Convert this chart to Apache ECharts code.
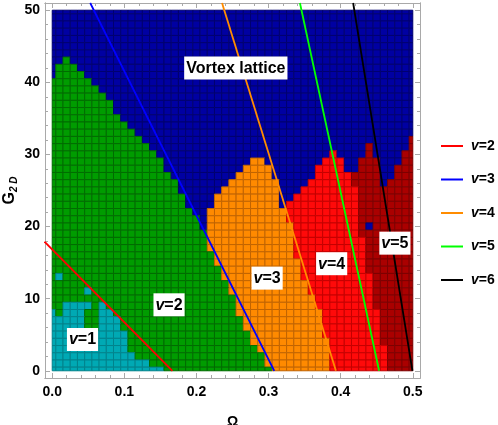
<!DOCTYPE html>
<html>
<head>
<meta charset="utf-8">
<script src="https://cdn.jsdelivr.net/npm/echarts@6/dist/echarts.min.js"></script>
<style>
  html, body { margin: 0; padding: 0; background: #fff; }
  #chart { width: 498px; height: 425px; }
</style>
</head>
<body>
<div id="chart"></div>
<script>
// one cell every 0.01 in Omega and every 1 in G_2D, cell centres 0..0.5 and 0..50
const OMEGA_STEP = 0.01;
const G_STEP = 1;
const G_MAX = 50;
const OMEGA_MAX = 0.5;

// rows from G = 50 down to G = 0, runs "<phase><last column>"
// c = v=1, g = v=2, b = vortex lattice, o = v=3, r = v=4, d = v=5
const PHASE_ROWS = [
  "b50", "b50", "b50", "b50", "b50", "b50", "b50",
  "b1 g2 b50",
  "b0 g3 b50",
  "b0 g4 b50",
  "g5 b50",
  "g6 b50",
  "g7 b50",
  "g8 b50",
  "g8 b50",
  "g9 b50",
  "g10 b50",
  "g11 b50",
  "g12 b49 d50",
  "g13 b43 d44 b49 d50",
  "g14 b38 r39 b43 d44 b48 d50",
  "g15 b27 o29 b37 r40 b42 d45 b48 d50",
  "g15 b26 o30 b36 r40 b42 d45 b47 d50",
  "g16 b25 o30 b36 r41 d45 b47 d50",
  "g17 b24 o31 b35 r41 d45 b46 d50",
  "g17 b23 o31 b34 r42 d50",
  "g18 b22 o31 b33 r42 d50",
  "g18 b22 o31 b32 r42 d50",
  "g19 b21 o32 r42 d50",
  "g20 b21 o32 r42 d50",
  "g20 b21 o33 r42 d43 b44 d50",
  "g21 o33 r42 d50",
  "g21 o33 r43 d50",
  "g21 o33 r43 d50",
  "g22 o33 r43 d50",
  "g22 o34 r43 d50",
  "g23 o34 r43 d50",
  "g0 c1 g23 o34 r44 d50",
  "g24 o35 r44 d50",
  "g4 c5 g24 o35 r44 d50",
  "g25 o36 r44 d50",
  "g1 c5 g6 c7 g25 o36 r44 d50",
  "c0 g1 c4 g6 c8 g25 o37 r45 d50",
  "c4 g6 c9 g26 o37 r45 d50",
  "c4 g6 c9 g26 o37 r45 d50",
  "c10 g27 o37 r45 d50",
  "c10 g27 o38 r45 d50",
  "c10 g28 o38 r46 d50",
  "c11 g29 o38 r46 d50",
  "c13 g29 o38 r46 d50",
  "c15 g30 o38 r46 d50"
];
const PHASE_KEYS = ["c", "g", "b", "o", "r", "d"];
const PHASE_FILL = ["#00a9b4", "#009c00", "#0000a2", "#ff8a00", "#ff0a0a", "#aa0000"];
const PHASE_EDGE = ["#00838c", "#006c00", "#000070", "#c06400", "#c40000", "#7c0000"];

// winding lines, [Omega, G_2D] end points
const LINE_NAMES = ["v=2", "v=3", "v=4", "v=5", "v=6"];
const LINE_COLORS = ["#ff0000", "#0000ff", "#ff8c00", "#00ff00", "#000000"];
const LINE_V2 = [[-0.0107, 17.9], [0.1667, 0]];
const LINE_V3 = [[0.0527, 51], [0.3079, 0]];
const LINE_V4 = [[0.2355, 51], [0.3934, 0]];
const LINE_V5 = [[0.3435, 51], [0.4533, 0]];
const LINE_V6 = [[0.4173, 51], [0.4995, 0]];

const REGION_TEXT = ["Vortex lattice", "v=1", "v=2", "v=3", "v=4", "v=5"];
const REGION_POS = [[0.2546, 42.0], [0.042, 4.35], [0.162, 9.15], [0.298, 12.85], [0.3875, 14.85], [0.4752, 17.7]];

const OMEGA_TICKS = [0, 0.1, 0.2, 0.3, 0.4, 0.5];
const OMEGA_MINOR = [0.02, 0.04, 0.06, 0.08, 0.12, 0.14, 0.16, 0.18, 0.22, 0.24, 0.26, 0.28,
  0.32, 0.34, 0.36, 0.38, 0.42, 0.44, 0.46, 0.48];
const G_TICKS = [0, 10, 20, 30, 40, 50];
const G_MINOR = [2, 4, 6, 8, 12, 14, 16, 18, 22, 24, 26, 28, 32, 34, 36, 38, 42, 44, 46, 48];

const FONT = "Liberation Sans, Arial, sans-serif";
const FRAME = "#a9a9a9";

let cells = [];
PHASE_ROWS.forEach((row, k) => {
  let g = G_MAX - k;
  let col = 0;
  row.split(" ").forEach(run => {
    let ph = PHASE_KEYS.indexOf(run[0]);
    let last = +run.slice(1);
    for (; col <= last; col++) cells.push([+(col * OMEGA_STEP).toFixed(2), g, ph]);
  });
});

function renderCell(params, api) {
  let om = api.value(0), g = api.value(1), ph = api.value(2);
  let lo = api.coord([Math.max(om - OMEGA_STEP / 2, 0), Math.max(g - G_STEP / 2, 0)]);
  let hi = api.coord([Math.min(om + OMEGA_STEP / 2, OMEGA_MAX), Math.min(g + G_STEP / 2, G_MAX)]);
  return {
    type: "rect",
    shape: { x: lo[0], y: hi[1], width: hi[0] - lo[0], height: lo[1] - hi[1] },
    style: { fill: PHASE_FILL[ph], stroke: PHASE_EDGE[ph], lineWidth: 1 }
  };
}

function vText(t) {
  return t.indexOf("v=") === 0 ? "{i|v}{n|" + t.slice(1) + "}" : "{n|" + t + "}";
}

function axisX(pos, ticks, len, labels) {
  return {
    type: "value", position: pos, min: -0.01, max: 0.51,
    axisLine: { show: true, onZero: false, lineStyle: { color: FRAME } },
    axisTick: { show: true, inside: true, length: len, customValues: ticks, lineStyle: { color: FRAME } },
    axisLabel: {
      show: labels, customValues: ticks, margin: 7,
      formatter: v => v.toFixed(1),
      color: "#000", fontWeight: "bold", fontSize: 14, fontFamily: FONT
    },
    splitLine: { show: false }
  };
}

function axisY(pos, ticks, len, labels) {
  return {
    type: "value", position: pos, min: -1, max: 51,
    axisLine: { show: true, onZero: false, lineStyle: { color: FRAME } },
    axisTick: { show: true, inside: true, length: len, customValues: ticks, lineStyle: { color: FRAME } },
    axisLabel: {
      show: labels, customValues: ticks, margin: 5,
      color: "#000", fontWeight: "bold", fontSize: 14, fontFamily: FONT
    },
    splitLine: { show: false }
  };
}

let xMain = axisX("bottom", OMEGA_TICKS, 5, true);
xMain.name = "Ω";
xMain.nameLocation = "middle";
xMain.nameGap = 37;
xMain.nameMoveOverlap = false;
xMain.nameTextStyle = { color: "#000", fontWeight: "bold", fontSize: 14, fontFamily: FONT };

let yMain = axisY("left", G_TICKS, 5, true);
yMain.name = "{g|G}{s|2 D}";
yMain.nameLocation = "middle";
yMain.nameGap = 26;
yMain.nameRotate = 90;
yMain.nameMoveOverlap = false;
yMain.nameTextStyle = {
  rich: {
    g: { fontSize: 16, fontWeight: "bold", color: "#000", fontFamily: FONT },
    s: { fontSize: 10, fontWeight: "bold", fontStyle: "italic", color: "#000", fontFamily: FONT, padding: [8, 0, 0, 0] }
  }
};

let lineData = [LINE_V2, LINE_V3, LINE_V4, LINE_V5, LINE_V6];

let chart = echarts.init(document.getElementById("chart"));
chart.setOption({
  animation: false,
  grid: { left: 45, top: 3, width: 375, height: 375, outerBoundsMode: "none", containLabel: false },
  xAxis: [
    xMain,
    axisX("bottom", OMEGA_MINOR, 3, false),
    axisX("top", OMEGA_TICKS, 5, false),
    axisX("top", OMEGA_MINOR, 3, false)
  ],
  yAxis: [
    yMain,
    axisY("left", G_MINOR, 3, false),
    axisY("right", G_TICKS, 5, false),
    axisY("right", G_MINOR, 3, false)
  ],
  legend: {
    data: LINE_NAMES,
    orient: "vertical",
    left: 436,
    top: 134,
    icon: "rect",
    itemWidth: 22,
    itemHeight: 2,
    itemGap: 19.5,
    selectedMode: false,
    formatter: name => vText(name),
    textStyle: {
      rich: {
        i: { fontSize: 14, fontWeight: "bold", fontStyle: "italic", color: "#000", fontFamily: FONT, lineHeight: 16, padding: [0, 0, 0, 3] },
        n: { fontSize: 14, fontWeight: "bold", color: "#000", fontFamily: FONT, lineHeight: 16 }
      }
    }
  },
  series: [
    {
      type: "custom",
      renderItem: renderCell,
      data: cells,
      encode: { x: 0, y: 1 },
      silent: true,
      z: 1
    }
  ].concat(lineData.map((pts, i) => ({
    name: LINE_NAMES[i],
    type: "line",
    data: pts,
    showSymbol: false,
    clip: true,
    silent: true,
    color: LINE_COLORS[i],
    lineStyle: { color: LINE_COLORS[i], width: 1.8 },
    z: 3
  }))).concat([
    {
      type: "scatter",
      data: REGION_POS.map((p, i) => [p[0], p[1], REGION_TEXT[i]]),
      symbolSize: 1,
      itemStyle: { color: "rgba(0,0,0,0)", opacity: 1 },
      silent: true,
      z: 5,
      label: {
        show: true,
        position: "inside",
        backgroundColor: "#fff",
        opacity: 1,
        padding: [4, 2, 3, 2],
        formatter: p => vText(p.value[2]),
        rich: {
          i: { fontSize: 16, fontWeight: "bold", fontStyle: "italic", color: "#000", fontFamily: FONT },
          n: { fontSize: 16, fontWeight: "bold", color: "#000", fontFamily: FONT }
        }
      }
    }
  ])
});
</script>
</body>
</html>
